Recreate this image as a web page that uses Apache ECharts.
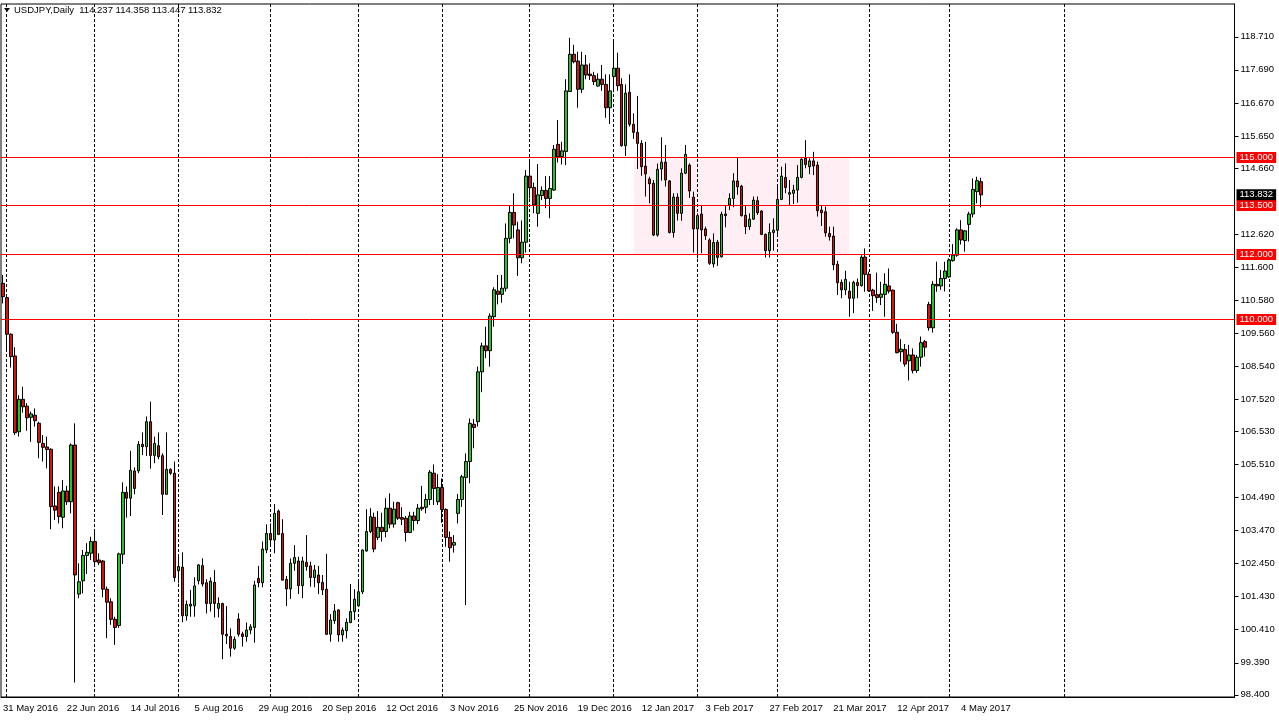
<!DOCTYPE html>
<html><head><meta charset="utf-8">
<script src="https://cdn.jsdelivr.net/npm/echarts@6/dist/echarts.min.js"></script>
<style>html,body{margin:0;padding:0;background:#fff;overflow:hidden}#c{width:1279px;height:722px}</style>
</head><body><div id="c"></div>
<script>
const symbolName = 'USDJPY,Daily';
const holidays = ['2016-12-26', '2017-01-02'];
const totalSlots = 309;
const futureSeparatorIdx = 266;

const opens = [
111.10,110.66,109.53,108.86,106.52,107.52,107.31,106.965,107.03,106.78,
106.16,106.05,105.98,104.23,104.65,103.88,104.69,104.36,106.11,101.51,
101.92,102.70,102.77,103.13,102.56,102.53,101.66,101.27,100.73,100.54,
102.74,104.65,104.47,105.31,105.31,106.13,106.06,106.83,105.79,106.09,
105.78,104.59,105.36,105.24,102.23,102.34,100.84,101.14,101.15,101.92,
102.39,101.86,101.22,101.87,101.07,101.22,100.27,100.20,99.84,100.74,
100.28,100.20,100.40,100.48,101.99,101.86,102.87,103.38,103.18,104.07,
103.38,101.96,101.67,102.46,102.53,101.77,102.49,102.38,102.02,102.10,
101.87,101.66,100.27,100.69,101.02,100.25,100.38,100.63,100.97,101.15,
101.58,102.84,103.44,103.88,103.26,103.57,103.44,104.16,103.67,104.33,
103.87,103.85,103.41,103.92,103.78,104.19,104.19,104.43,105.24,104.36,
104.80,104.12,103.26,103.02,104.00,104.43,105.11,105.60,106.75,106.83,
108.37,109.17,109.02,110.07,110.86,110.76,110.95,112.49,113.29,112.75,
111.89,112.37,114.41,114.06,113.26,113.81,113.97,113.72,113.98,115.39,
115.01,115.17,117.02,118.17,117.96,117.09,117.84,117.56,117.51,117.19,
117.40,117.24,116.52,117.48,117.74,117.24,115.35,117.00,116.01,115.76,
115.42,114.72,114.32,114.19,112.59,114.63,114.84,114.26,112.67,113.76,
113.26,114.50,114.75,113.76,112.78,113.24,112.78,112.44,111.70,112.37,
111.92,113.24,113.52,113.72,114.26,114.10,113.20,112.85,113.08,113.65,
113.33,112.61,112.11,112.67,112.74,113.69,114.37,113.85,113.88,113.98,
114.37,114.96,114.70,114.88,114.75,113.36,113.31,112.64,112.56,111.69,
111.13,110.90,110.86,110.64,111.13,111.03,111.91,111.38,110.89,110.75,
110.67,110.76,111.02,110.89,109.59,108.99,109.06,108.71,108.89,108.41,
108.82,109.30,110.45,109.73,111.07,111.02,111.25,111.30,111.80,111.97,
112.75,112.42,112.92,113.24,113.93,114.237];
const highs = [
111.36,110.68,109.56,109.13,107.65,107.91,107.40,107.14,107.24,106.83,
106.42,106.37,106.01,104.83,104.83,105.03,104.85,106.16,106.78,102.46,
102.87,103.08,103.28,103.44,102.77,102.56,101.74,101.38,100.81,102.79,
104.96,104.83,105.93,105.42,106.23,106.50,106.99,107.45,106.37,106.50,
105.85,106.50,105.39,105.60,102.66,102.80,101.31,101.64,102.03,102.44,
102.61,101.97,102.03,102.25,101.41,101.24,101.14,100.45,100.20,100.92,
100.35,100.63,100.58,101.92,102.38,103.13,103.66,103.69,104.29,104.12,
103.82,102.07,102.61,103.02,102.66,102.66,103.33,102.51,102.41,102.38,
102.10,102.75,100.89,101.20,101.04,100.48,100.76,101.82,101.66,101.89,
102.89,104.13,104.16,104.02,104.07,104.02,104.47,104.62,104.36,104.36,
104.19,103.92,104.05,104.05,104.29,104.85,104.60,105.34,105.51,105.21,
105.08,104.16,103.44,103.33,104.60,105.19,105.85,106.93,106.91,108.53,
109.27,109.76,110.17,110.98,111.36,111.36,112.95,113.52,113.88,113.00,
113.04,114.60,114.89,114.21,114.78,114.09,114.41,114.41,115.37,116.14,
115.47,117.40,118.68,118.46,118.25,118.25,118.15,117.89,117.63,117.58,
117.84,117.55,117.55,118.61,118.22,117.43,117.24,117.55,116.35,116.88,
115.52,115.47,114.39,114.29,114.80,115.61,115.37,114.29,113.88,113.88,
114.65,115.37,114.80,113.93,113.26,113.52,112.85,112.49,112.64,112.44,
113.31,113.52,113.88,114.50,114.99,114.14,113.52,113.26,113.78,113.78,
113.36,112.64,112.95,113.11,114.08,114.70,114.80,114.29,114.14,114.75,
114.96,115.52,114.96,115.16,114.86,113.52,113.47,112.85,112.85,111.79,
111.22,111.49,111.15,111.18,111.25,111.97,112.18,111.46,110.93,111.43,
111.15,111.41,111.56,110.91,109.85,109.38,109.23,109.20,109.09,108.89,
109.46,109.35,110.53,111.17,111.77,111.51,111.77,111.87,112.31,112.80,
113.05,112.75,113.31,114.34,114.39,114.358];
const lows = [
110.48,109.04,108.50,106.42,106.37,107.11,106.55,106.21,106.68,105.70,
105.60,105.39,103.51,103.80,103.69,103.54,104.26,104.00,98.78,101.38,
101.53,102.13,102.56,102.36,102.41,101.41,100.15,100.56,99.94,100.47,
102.44,103.87,103.92,104.59,105.24,105.80,105.77,105.38,105.55,105.67,
103.95,104.59,105.19,101.89,101.84,100.64,100.69,100.81,100.81,101.81,
101.74,100.91,100.97,100.79,100.79,99.50,99.97,99.58,99.79,100.20,
99.89,100.04,100.27,100.01,101.72,101.72,102.77,102.97,102.77,103.33,
101.94,101.14,101.36,102.23,101.51,101.38,102.23,101.74,101.72,101.51,
101.48,100.25,100.04,100.59,100.04,100.04,100.14,100.61,100.71,101.12,
101.51,102.82,103.39,102.80,103.18,103.13,103.26,103.54,103.56,103.80,
103.64,103.13,103.39,103.47,103.67,104.08,104.00,104.26,104.26,104.26,
103.71,102.97,102.51,102.79,103.69,104.20,101.17,104.93,106.01,106.68,
107.74,108.79,108.53,109.76,110.45,110.50,110.85,112.34,112.49,111.33,
111.72,112.05,113.72,113.26,112.85,113.67,113.42,113.11,113.95,114.83,
114.77,114.75,117.02,117.89,116.52,116.97,117.40,117.38,117.22,117.17,
117.04,116.21,116.02,117.00,117.04,115.32,115.03,115.94,115.56,114.63,
114.42,113.78,113.57,112.56,112.54,114.27,114.09,112.64,112.51,113.04,
113.03,114.47,113.74,112.05,111.87,112.03,112.44,111.67,111.59,111.64,
111.90,112.83,113.36,113.45,113.83,113.16,112.62,112.75,113.06,113.21,
112.59,111.90,111.90,112.11,112.55,113.67,113.88,113.52,113.55,113.59,
114.34,114.65,114.47,114.44,113.16,112.87,112.54,112.42,111.51,110.74,
110.64,110.74,110.07,110.18,110.64,111.00,110.84,110.84,110.25,110.50,
110.43,110.07,110.79,109.54,108.94,108.68,108.53,108.10,108.32,108.34,
108.53,108.84,109.64,109.58,110.84,110.90,110.85,111.27,111.77,111.92,
112.30,112.08,112.39,113.14,113.57,113.447];
const closes = [
110.69,109.53,108.84,106.49,107.52,107.29,106.95,107.07,106.86,106.19,
106.04,105.97,104.21,104.10,103.90,104.69,104.36,106.11,102.10,101.89,
102.70,102.80,103.13,102.51,102.48,101.66,101.26,100.73,100.48,102.75,
104.65,104.47,105.33,104.77,106.13,106.06,106.83,105.79,106.16,105.75,
104.59,105.36,105.24,102.02,102.36,100.84,101.19,101.20,101.76,102.41,
101.82,101.22,101.91,101.22,101.22,100.27,100.22,99.84,100.11,100.27,
100.20,100.40,100.50,101.79,101.86,102.90,103.38,103.18,104.00,103.35,
101.94,101.67,102.46,102.64,101.77,102.53,102.36,102.02,102.25,101.86,
101.64,100.27,100.71,100.99,100.25,100.40,100.64,100.97,101.35,101.58,
102.87,103.44,103.90,102.90,103.57,103.44,104.16,103.67,104.13,103.85,
103.82,103.41,103.92,103.78,104.16,104.14,104.43,105.27,104.77,104.80,
104.12,103.26,102.94,103.10,104.43,105.13,105.60,106.78,106.65,108.37,
109.17,109.02,110.09,110.90,110.76,110.95,112.49,113.29,112.90,111.89,
112.37,114.41,114.05,113.52,113.83,113.97,113.72,114.03,115.24,115.01,
115.19,117.04,118.17,117.94,117.09,117.84,117.53,117.51,117.33,117.40,
117.24,116.52,117.04,117.74,117.20,115.35,116.97,116.01,115.76,115.42,
114.70,114.48,114.17,112.59,114.62,114.84,114.29,112.67,113.76,113.26,
114.50,115.08,113.95,112.78,113.19,112.75,112.57,111.72,112.36,111.90,
113.23,113.19,113.72,114.26,114.08,113.19,112.85,113.08,113.67,113.28,
112.61,112.11,112.67,112.74,113.69,114.41,114.06,113.90,113.98,114.37,
114.93,114.77,114.88,114.72,113.34,113.28,112.66,112.54,111.67,111.12,
110.90,111.22,110.64,111.13,111.03,111.91,111.38,110.87,110.72,110.66,
110.77,111.07,110.86,109.59,108.96,109.07,108.61,108.89,108.41,108.82,
109.27,109.13,109.73,111.07,111.02,111.25,111.48,111.82,111.97,112.75,
112.44,112.72,113.24,114.00,114.27,113.832];

const yTickLabels = [118.71,117.69,116.67,115.65,114.66,112.62,111.60,110.58,109.56,108.54,
  107.52,106.53,105.51,104.49,103.47,102.45,101.43,100.41,99.39,98.40];
const levelLines = [115.000, 113.500, 112.000, 110.000];
const bidPrice = 113.832;
const zoneTop = 115.0, zoneBottom = 112.0, zoneStartIdx = 158, zoneEndIdx = 212;
const labelEvery = 16;

const monthNames = ['Jan','Feb','Mar','Apr','May','Jun','Jul','Aug','Sep','Oct','Nov','Dec'];
function buildDates(n) {
  const out = [], months = [];
  let d = new Date(Date.UTC(2016, 4, 31));
  while (out.length < n) {
    const dow = d.getUTCDay();
    const iso = d.toISOString().slice(0, 10);
    if (dow !== 0 && dow !== 6 && !holidays.includes(iso)) {
      out.push(d.getUTCDate() + ' ' + monthNames[d.getUTCMonth()] + ' ' + d.getUTCFullYear());
      months.push(d.getUTCMonth());
    }
    d = new Date(d.getTime() + 86400000);
  }
  return {out, months};
}
const built = buildDates(totalSlots);
const categories = built.out;
const nBars = closes.length;
const separators = [];
for (let i = 1; i < nBars; i++) if (built.months[i] !== built.months[i - 1]) separators.push(i);
separators.push(futureSeparatorIdx);

const candleData = opens.map((o, i) => [o, closes[i], lows[i], highs[i]]);

const last = nBars - 1;
const titleText = symbolName + '  ' + [opens[last], highs[last], lows[last], closes[last]].map(v => v.toFixed(3)).join(' ');
const FONT = '9.5px "Liberation Sans"';

function priceTag(cs, y, value, bg) {
  return {type: 'text', x: cs.x + cs.width + 2, y: y,
    style: {text: value.toFixed(3), fill: '#fff', backgroundColor: bg, padding: [1, 3, 0, 3],
      font: FONT, verticalAlign: 'middle', align: 'left'}};
}

const chart = echarts.init(document.getElementById('c'), null, {renderer: 'canvas'});
chart.setOption({
  animation: false,
  backgroundColor: '#fff',
  grid: {left: -1.5, top: 4, width: totalSlots * 4, bottom: 25, show: true, borderColor: '#000', borderWidth: 1, backgroundColor: '#fff'},
  xAxis: {
    type: 'category', data: categories, boundaryGap: true,
    axisLine: {show: true, lineStyle: {color: '#000', width: 1}},
    axisTick: {show: false},
    splitLine: {show: false},
    axisLabel: {
      interval: (i) => i % labelEvery === 0 && i < nBars,
      align: 'left', margin: 6, color: '#000', fontFamily: 'Liberation Sans', fontSize: 9.5
    }
  },
  yAxis: {
    type: 'value', position: 'right', min: 98.333, max: 119.722, scale: true,
    splitLine: {show: false},
    axisLine: {show: true, lineStyle: {color: '#000', width: 1}},
    axisTick: {show: true, length: 4, lineStyle: {color: '#000'}, customValues: yTickLabels},
    axisLabel: {customValues: yTickLabels, formatter: v => v.toFixed(3), margin: 6,
      color: '#000', fontFamily: 'Liberation Sans', fontSize: 9.5}
  },
  series: [
    {
      type: 'line', data: [], silent: true, z: 1,
      markArea: {
        silent: true,
        itemStyle: {color: '#ffeef3', borderWidth: 0},
        data: [[{xAxis: categories[zoneStartIdx], yAxis: zoneTop}, {xAxis: categories[zoneEndIdx], yAxis: zoneBottom}]]
      }
    },
    {
      type: 'custom', silent: true, z: 2, clip: true,
      data: separators.map(i => [i, 0]),
      encode: {x: 0, y: 1},
      renderItem: (params, api) => {
        const cs = params.coordSys;
        const x = Math.floor(api.coord([api.value(0), 110])[0]) + 0.5;
        return {type: 'line', shape: {x1: x, y1: cs.y, x2: x, y2: cs.y + cs.height},
          style: {stroke: '#000', lineWidth: 1, lineDash: [3, 2]}};
      }
    },
    {
      type: 'candlestick',
      data: candleData,
      barWidth: 3, z: 3,
      itemStyle: {color: '#1ec81e', color0: '#d81010', borderColor: '#000', borderColor0: '#000', borderWidth: 1}
    },
    {
      type: 'custom', silent: true, z: 4, clip: false,
      data: levelLines.map(v => [0, v]),
      encode: {x: 0, y: 1},
      renderItem: (params, api) => {
        const cs = params.coordSys;
        const v = api.value(1);
        const y = Math.floor(api.coord([0, v])[1] + 0.3) + 0.5;
        return {type: 'group', children: [
          {type: 'line', shape: {x1: cs.x, y1: y, x2: cs.x + cs.width, y2: y},
            style: {stroke: '#ff0000', lineWidth: 1}},
          priceTag(cs, y, v, '#ff0000')
        ]};
      }
    },
    {
      type: 'custom', silent: true, z: 5, clip: false,
      data: [[0, bidPrice]],
      encode: {x: 0, y: 1},
      renderItem: (params, api) => {
        const cs = params.coordSys;
        const v = api.value(1);
        const y = api.coord([0, v])[1];
        return priceTag(cs, y, v, '#000');
      }
    }
  ],
  graphic: [
    {type: 'polygon', shape: {points: [[4, 8], [10, 8], [7, 12]]}, style: {fill: '#000'}},
    {type: 'text', left: 14, top: 5, style: {text: titleText, fill: '#000', font: FONT}}
  ]
});
</script>
</body></html>
